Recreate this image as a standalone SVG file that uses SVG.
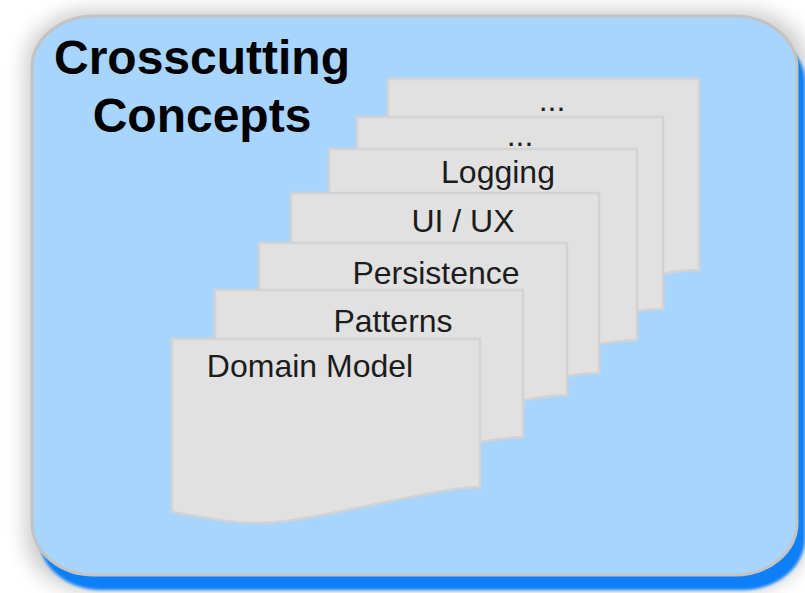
<svg xmlns="http://www.w3.org/2000/svg" width="805" height="593" viewBox="0 0 805 593">
  <defs>
    <filter id="glow" x="-10%" y="-10%" width="120%" height="120%">
      <feGaussianBlur stdDeviation="9"/>
    </filter>
    <filter id="soft" x="-5%" y="-5%" width="110%" height="110%">
      <feGaussianBlur stdDeviation="1.5"/>
    </filter>
    <style>
      .page { fill: #e1e1e1; stroke: #d3d3d3; stroke-width: 2.5; stroke-linejoin: miter; }
      .lbl { font-family: "Liberation Sans", Arial, sans-serif; font-size: 32px; fill: #1c1c1c; text-anchor: middle; }
      .title { font-family: "Liberation Sans", Arial, sans-serif; font-size: 48px; font-weight: bold; fill: #000; text-anchor: middle; }
    </style>
  </defs>
  <rect width="805" height="593" fill="#ffffff"/>

  <g id="container">
    <rect x="24" y="9" width="785" height="583" rx="66" ry="56" fill="#9a9a9a" opacity="0.45" filter="url(#glow)"/>
    <rect x="39" y="30" width="766" height="560" rx="62" ry="52" fill="#0a7ff7" filter="url(#soft)"/>
    <rect x="32" y="16" width="765" height="559" rx="62" ry="52" fill="#a8d5fd" stroke="#c3c3c3" stroke-width="3"/>
    <text class="title" x="202" y="74">Crosscutting</text>
    <text class="title" x="202" y="132">Concepts</text>
  </g>

  <g id="page7">
    <path class="page" d="M388,79 H699 V270 C652,270 528,306 475,306 C446,306 407,298 388,295 Z"/>
    <text class="lbl" x="552" y="111">...</text>
  </g>
  <g id="page6">
    <path class="page" d="M357,117 H663 V309 C617,309 495,345 443,345 C414,345 376,337 357,334 Z"/>
    <text class="lbl" x="520" y="146">...</text>
  </g>
  <g id="page5">
    <path class="page" d="M329,149 H637 V340 C591,340 468,376 415,376 C386,376 347,368 329,365 Z"/>
    <text class="lbl" x="498" y="183">Logging</text>
  </g>
  <g id="page4">
    <path class="page" d="M291,193 H599 V373 C553,373 430,409 377,409 C348,409 309,401 291,398 Z"/>
    <text class="lbl" x="463" y="232">UI / UX</text>
  </g>
  <g id="page3">
    <path class="page" d="M259,243 H567 V395 C521,395 398,431 345,431 C316,431 277,423 259,420 Z"/>
    <text class="lbl" x="436" y="284">Persistence</text>
  </g>
  <g id="page2">
    <path class="page" d="M215,290 H523 V437 C477,437 354,473 301,473 C272,473 233,465 215,462 Z"/>
    <text class="lbl" x="393" y="332">Patterns</text>
  </g>
  <g id="page1">
    <path class="page" d="M172,339 H480 V487 C434,487 311,523 258,523 C229,523 190,515 172,512 Z"/>
    <text class="lbl" x="310" y="377">Domain Model</text>
  </g>

  <g id="connectors"></g>
</svg>
